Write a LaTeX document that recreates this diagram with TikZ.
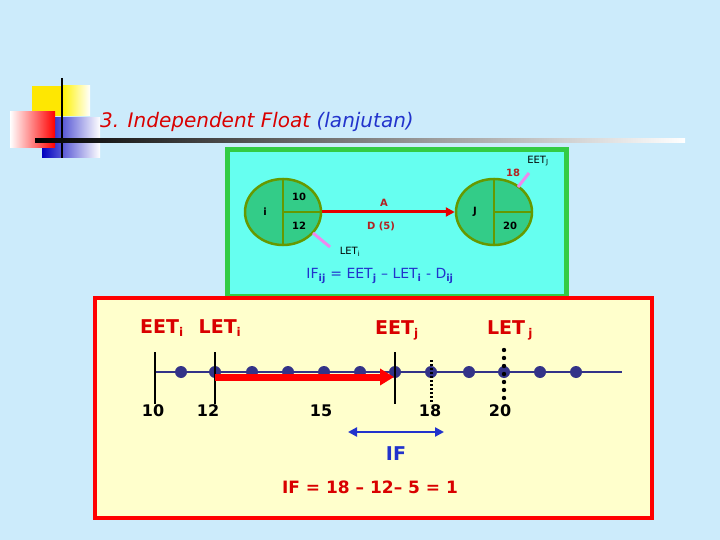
\documentclass[tikz,border=0pt]{standalone}
\usepackage{fontspec}
\setmainfont{DejaVu Sans}
\usetikzlibrary{arrows.meta, positioning, calc, shapes.geometric}
\definecolor{bgblue}{HTML}{CCEBFB}
\definecolor{boxcyan}{HTML}{66FFF0}
\definecolor{boxgreen}{HTML}{33CC44}
\definecolor{nodefill}{HTML}{33CC88}
\definecolor{nodeedge}{HTML}{669900}
\definecolor{darkred}{HTML}{B22222}
\definecolor{axisblue}{HTML}{333388}
\definecolor{txtblue}{HTML}{2233CC}
\definecolor{pinkline}{HTML}{EE88EE}
\definecolor{ivory}{HTML}{FFFFCC}
\tikzset{
  event/.style={ellipse, draw=nodeedge, line width=2.5pt, fill=nodefill, minimum width=76pt, minimum height=66pt},
  small/.style={font=\bfseries\fontsize{10}{11}\selectfont},
  thin/.style={font=\fontsize{10}{11}\selectfont},
  biglabel/.style={text=red!85!black, font=\bfseries\fontsize{19}{20}\selectfont},
  num/.style={font=\bfseries\fontsize{16}{17}\selectfont},
  tickmark/.style={line width=2.5pt},
  dotmark/.style={circle, fill=axisblue, inner sep=0pt, minimum size=12pt}
}
\begin{document}
\begin{tikzpicture}[x=1pt,y=-1pt]
    \useasboundingbox (0,0) rectangle (720,540);
    \fill[bgblue] (0,0) rectangle (720,540);

    % Title decoration
    \fill[yellow!90!orange] (32,86) rectangle (62,116);
    \shade[left color=yellow!90!orange, right color=white] (62,86) rectangle (90,116);
    \shade[left color=blue!75!black, right color=white] (42,118) rectangle (100,158);
    \shade[right color=red, left color=white] (10,112) rectangle (55,148);
    \draw[line width=1.5pt] (62,78) -- (62,158);
    \shade[left color=black, right color=white] (35,139) rectangle (685,143);
    \node[anchor=west, inner sep=0pt, font=\itshape\fontsize{20}{22}\selectfont] (title) at (100,122)
      {\textcolor{red!85!black}{3. Independent Float} \textcolor{txtblue}{(lanjutan)}};

    % Network box
    \draw[boxgreen, line width=5pt, fill=boxcyan] (227,150) rectangle (566,296);
    \node[event] (ni) at (283,212) {};
    \draw[nodeedge, line width=2.5pt] (ni.north) -- (ni.south) (ni.center) -- (ni.east);
    \node[event] (nj) at (494,212) {};
    \draw[nodeedge, line width=2.5pt] (nj.north) -- (nj.south) (nj.center) -- (nj.east);
    \node[small] (li) at (265,212) {i};
    \node[small] (ei) at (299,197) {10};
    \node[small] (lti) at (299,226) {12};
    \node[small] (lj) at (475,212) {J};
    \node[small] (ltj) at (510,226) {20};
    \draw[red!90!black, line width=3pt, -{Triangle[length=9pt,width=9pt]}] (ni.east) -- (nj.west);
    \node[small, text=darkred] (act) at (384,203) {A};
    \node[small, text=darkred] (dur) at (381,226) {D (5)};
    % markers
    \coordinate (pi1) at (313,233);
    \coordinate (pi2) at (330,247);
    \draw[pinkline, line width=3pt] (pi1) -- (pi2);
    \node[thin] (letilab) at (350,252) {LET\textsubscript{i}};
    \coordinate (pj1) at (518,187);
    \coordinate (pj2) at (529,173);
    \draw[pinkline, line width=3pt] (pj1) -- (pj2);
    \node[small, text=darkred] (ej) at (513,173) {18};
    \node[thin] (eetjlab) at (538,161) {EET\textsubscript{J}};
    \node[text=txtblue, font=\fontsize{14}{15}\selectfont] (formula) at (380,276)
      {IF\textsubscript{\textbf{ij}} = EET\textsubscript{\textbf{j}} -- LET\textsubscript{\textbf{i}} - D\textsubscript{\textbf{ij}}};

    % Time line box
    \draw[red, line width=4pt, fill=ivory] (95,298) rectangle (652,518);
    \draw[axisblue, line width=2pt] (155,372) -- (622,372);
    \foreach \x in {181,215,252,288,324,360,395,431,469,504,540,576}
      \node[dotmark] at (\x,372) {};
    \draw[tickmark] (155,352) -- (155,404);
    \draw[tickmark] (215,352) -- (215,404);
    \draw[tickmark] (395,352) -- (395,404);
    \draw[line width=3pt, dash pattern=on 2pt off 2pt] (431,360) -- (431,404);
    \foreach \y in {350,358,...,398}
      \fill (504,\y) circle (2.2pt);
    \coordinate (rs) at (215,377);
    \coordinate (re) at (394,377);
    \draw[red, line width=7pt, -{Triangle[length=14pt,width=16pt]}] (rs) -- (re);

    \node[biglabel] (eeti) at (162,328) {EET\textsubscript{\fontsize{12}{13}\selectfont i}};
    \node[biglabel] (leti) at (220,328) {LET\textsubscript{\fontsize{12}{13}\selectfont i}};
    \node[biglabel] (eetj) at (397,330) {EET\textsubscript{\fontsize{12}{13}\selectfont j}};
    \node[biglabel] (letj) at (510,330) {LET\,\textsubscript{\fontsize{12}{13}\selectfont j}};
    \node[num] (n10) at (153,411) {10};
    \node[num] (n12) at (208,411) {12};
    \node[num] (n15) at (321,411) {15};
    \node[num] (n18) at (430,411) {18};
    \node[num] (n20) at (500,411) {20};

    \coordinate (ifa) at (348,432);
    \coordinate (ifb) at (444,432);
    \draw[txtblue, line width=2.5pt, {Triangle[length=9pt,width=9pt]}-{Triangle[length=9pt,width=9pt]}] (ifa) -- (ifb);
    \node[text=txtblue, font=\bfseries\fontsize{19}{20}\selectfont] (iflab) at (396,454) {IF};
    \node[text=red!85!black, font=\bfseries\fontsize{17}{19}\selectfont] (ifcalc) at (370,487) {IF = 18 – 12– 5 = 1};
\end{tikzpicture}
\end{document}
